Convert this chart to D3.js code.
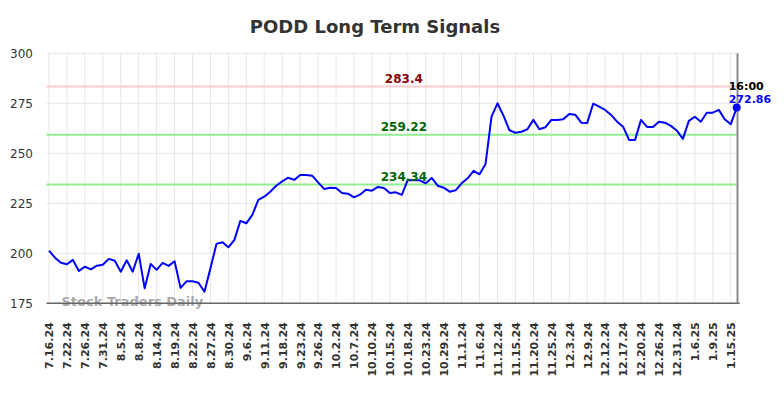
<!DOCTYPE html>
<html>
<head>
<meta charset="utf-8">
<script src="https://cdn.jsdelivr.net/npm/d3@7"></script>
<style>
  html, body { margin: 0; padding: 0; background: #fff; }
  svg { display: block; font-family: "DejaVu Sans", sans-serif; }
</style>
</head>
<body>
<svg id="chart" width="784" height="398"></svg>
<script>
const title = "PODD Long Term Signals";

// Tick labels (every 3rd data point)
const tickLabels = ["7.16.24","7.22.24","7.26.24","7.31.24","8.5.24","8.8.24","8.14.24","8.19.24",
  "8.22.24","8.27.24","8.30.24","9.6.24","9.11.24","9.18.24","9.23.24","9.26.24","10.2.24","10.7.24",
  "10.10.24","10.15.24","10.18.24","10.23.24","10.29.24","11.1.24","11.6.24","11.12.24","11.15.24",
  "11.20.24","11.25.24","12.3.24","12.9.24","12.12.24","12.17.24","12.20.24","12.26.24","12.31.24",
  "1.6.25","1.9.25","1.15.25"];

// Price series (one value per point, last one is the live 16:00 price)
const prices = [
  201.3,197.8,195.3,194.5,196.7,191.2,193.3,192.0,193.8,194.3,
  197.2,196.3,190.8,196.5,190.8,199.8,182.5,194.7,191.7,195.2,
  193.7,196.0,182.7,186.0,186.0,185.3,180.8,192.5,204.7,205.5,
  203.0,206.7,216.2,215.0,219.2,226.7,228.3,230.8,233.8,236.0,
  237.8,236.7,239.2,239.2,238.8,235.5,232.2,232.8,232.7,230.2,
  229.8,228.0,229.3,231.8,231.3,233.2,232.7,230.2,230.5,229.2,
  236.7,236.5,236.5,235.0,237.7,233.8,232.8,230.8,231.5,235.0,
  237.5,241.2,239.5,244.7,268.3,275.0,268.8,261.5,260.3,260.8,
  262.0,266.7,262.0,263.0,266.7,266.7,267.0,269.7,269.3,265.3,
  265.2,274.8,273.3,271.7,269.2,265.8,263.3,256.7,256.7,266.7,
  263.2,263.2,265.8,265.3,263.7,261.3,257.2,266.2,268.3,265.8,
  270.3,270.3,271.7,267.0,264.5,272.86];

const levelValues = [283.4, 259.22, 234.34];
const levelLabels = ["283.4", "259.22", "234.34"];
const levelLineColors = ["#ffcccc", "#90ee90", "#90ee90"];
const levelTextColors = ["#8b0000", "#006400", "#006400"];

const yTicks = [175, 200, 225, 250, 275, 300];
const lastTimeLabel = "16:00";
const watermark = "Stock Traders Daily";

const svg = d3.select("#chart");
const W = 784, H = 398;
const m = { left: 49, right: 47.3, top: 53.3, bottom: 94.7 };

const x = d3.scaleLinear().domain([0, prices.length - 1]).range([m.left, W - m.right]);
const y = d3.scaleLinear().domain([175, 300]).range([H - m.bottom, m.top]);

// Title
svg.append("text")
  .attr("x", 375).attr("y", 33)
  .attr("text-anchor", "middle")
  .attr("font-size", 18).attr("font-weight", "bold").attr("fill", "#333")
  .text(title);

// Horizontal grid
svg.append("g").selectAll("line").data(yTicks).join("line")
  .attr("x1", m.left - 2.5).attr("x2", x(prices.length - 1))
  .attr("y1", d => y(d)).attr("y2", d => y(d))
  .attr("stroke", "#e6e6e6").attr("stroke-width", 1);

// Vertical grid
const tickIdx = tickLabels.map((_, i) => i * 3);
svg.append("g").selectAll("line").data(tickIdx).join("line")
  .attr("x1", d => x(d)).attr("x2", d => x(d))
  .attr("y1", y(300)).attr("y2", y(175))
  .attr("stroke", "#e6e6e6").attr("stroke-width", 1);

// Y axis labels
const yAxis = d3.axisLeft(y).tickValues(yTicks).tickSize(0).tickPadding(0);
const yg = svg.append("g").attr("transform", `translate(${m.left - 16},0)`).call(yAxis);
yg.select(".domain").remove();
yg.selectAll("text").attr("font-size", 12).attr("fill", "#333")
  .attr("font-family", "DejaVu Sans, sans-serif");

// X axis labels
const xAxis = d3.axisBottom(x).tickValues(tickIdx).tickSize(0)
  .tickFormat((d, i) => tickLabels[i]);
const xg = svg.append("g").attr("transform", `translate(0,${y(175)})`).call(xAxis);
xg.select(".domain").remove();
xg.selectAll("text")
  .attr("font-size", 11).attr("font-weight", "bold").attr("fill", "#333")
  .attr("font-family", "DejaVu Sans, sans-serif")
  .attr("text-anchor", "end")
  .attr("transform", "translate(0,19) rotate(-90)")
  .attr("x", 0).attr("y", 0).attr("dy", "0.35em");

// Level lines
levelValues.forEach((v, i) => {
  svg.append("line")
    .attr("x1", m.left - 2.5).attr("x2", x(prices.length - 1))
    .attr("y1", y(v)).attr("y2", y(v))
    .attr("stroke", levelLineColors[i]).attr("stroke-width", 2);
});

// Watermark
svg.append("text")
  .attr("x", 61.5).attr("y", 306)
  .attr("font-size", 13).attr("font-weight", "bold").attr("fill", "#999").attr("fill-opacity", 0.85)
  .text(watermark);

// Bottom axis line
svg.append("line")
  .attr("x1", m.left - 2.5).attr("x2", x(prices.length - 1) + 3)
  .attr("y1", y(175)).attr("y2", y(175))
  .attr("stroke", "#666").attr("stroke-width", 1.5);

// Right marker line
svg.append("line")
  .attr("x1", x(prices.length - 1) + 0.8).attr("x2", x(prices.length - 1) + 0.8)
  .attr("y1", y(300)).attr("y2", y(175))
  .attr("stroke", "#888").attr("stroke-width", 2);

// Price line
const line = d3.line().x((d, i) => x(i)).y(d => y(d));
svg.append("path").datum(prices)
  .attr("d", line).attr("fill", "none")
  .attr("stroke", "#0000ff").attr("stroke-width", 2).attr("stroke-linejoin", "round");

// Level labels
const labelX = (x(0) + x(prices.length - 1)) / 2 + 11;
levelValues.forEach((v, i) => {
  svg.append("text")
    .attr("x", labelX).attr("y", y(v) - 3.5)
    .attr("text-anchor", "middle")
    .attr("font-size", 12).attr("font-weight", "bold").attr("fill", levelTextColors[i])
    .text(levelLabels[i]);
});

// Last point
const li = prices.length - 1;
svg.append("circle").attr("cx", x(li)).attr("cy", y(prices[li])).attr("r", 4).attr("fill", "#0000ff");
svg.append("text").attr("x", x(li) - 8).attr("y", y(prices[li]) - 18)
  .attr("font-size", 11).attr("font-weight", "bold").attr("fill", "#000").text(lastTimeLabel);
svg.append("text").attr("x", x(li) - 8).attr("y", y(prices[li]) - 5)
  .attr("font-size", 11).attr("font-weight", "bold").attr("fill", "#0000ff").text(prices[li].toFixed(2));
</script>
</body>
</html>
